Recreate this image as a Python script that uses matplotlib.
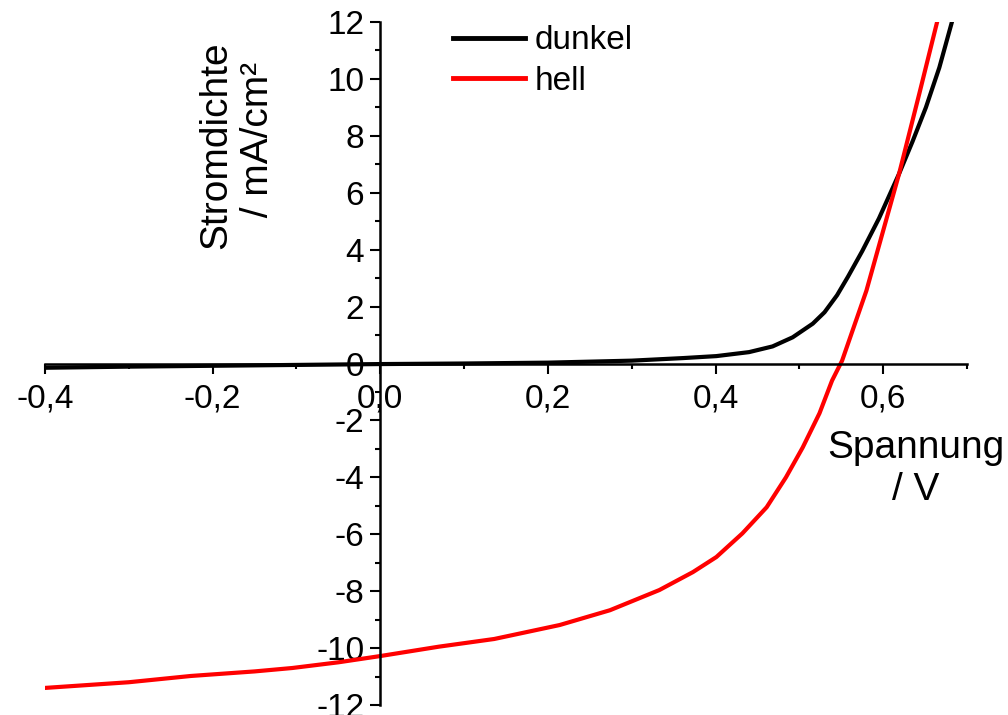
import matplotlib
matplotlib.use("Agg")
import matplotlib.pyplot as plt
from matplotlib.ticker import MultipleLocator, FuncFormatter

plt.rcParams['font.family'] = ['Liberation Sans', 'DejaVu Sans']

# dark curve (dunkel)
v_dunkel = [-0.4, -0.3, -0.2, -0.1, 0.0, 0.1, 0.2, 0.3, 0.361, 0.401, 0.44, 0.468, 0.492,
            0.516, 0.53, 0.545, 0.558, 0.575, 0.595, 0.619, 0.635, 0.651, 0.667, 0.682]
j_dunkel = [-0.15, -0.11, -0.08, -0.05, -0.02, 0.0, 0.03, 0.1, 0.19, 0.26, 0.4, 0.6, 0.92,
            1.4, 1.8, 2.4, 3.05, 3.95, 5.1, 6.67, 7.8, 9.0, 10.4, 12.0]

# illuminated curve (hell)
v_hell = [-0.4, -0.3, -0.226, -0.15, -0.105, -0.05, 0.0, 0.07, 0.136, 0.214, 0.274, 0.333,
          0.373, 0.401, 0.432, 0.461, 0.484, 0.504, 0.524, 0.539, 0.551, 0.58, 0.619, 0.643, 0.664]
j_hell = [-11.4, -11.2, -10.98, -10.82, -10.7, -10.5, -10.28, -9.95, -9.68, -9.19, -8.67, -7.96,
          -7.33, -6.8, -5.97, -5.05, -4.0, -2.95, -1.75, -0.6, 0.1, 2.56, 6.67, 9.47, 11.96]

labels = ["dunkel", "hell"]
xlabel = "Spannung\n/ V"
ylabel = "Stromdichte\n / mA/cm²"

W, H = 1008, 715
fig = plt.figure(figsize=(W / 100, H / 100), dpi=100)
ax = fig.add_axes([45 / W, 1 - 705 / H, (967 - 45) / W, (705 - 22) / H])

ax.plot(v_dunkel, j_dunkel, color='black', lw=3, label=labels[0], solid_joinstyle='round')
ax.plot(v_hell, j_hell, color='#ff0000', lw=3, label=labels[1], solid_joinstyle='round')

ax.set_xlim(-0.4, 0.7)
ax.set_ylim(-12, 12)

for s in ['top', 'right']:
    ax.spines[s].set_visible(False)
ax.spines['left'].set_position(('data', 0))
ax.spines['bottom'].set_position(('data', 0))
for s in ['left', 'bottom']:
    ax.spines[s].set_linewidth(1.8)

ax.xaxis.set_major_locator(MultipleLocator(0.2))
ax.xaxis.set_minor_locator(MultipleLocator(0.1))
ax.yaxis.set_major_locator(MultipleLocator(2))
ax.yaxis.set_minor_locator(MultipleLocator(1))

ax.xaxis.set_major_formatter(FuncFormatter(lambda v, p: f"{v:.1f}".replace('.', ',').replace('-0,0', '0,0')))
ax.yaxis.set_major_formatter(FuncFormatter(lambda v, p: f"{int(round(v))}"))

ax.tick_params(which='major', direction='out', length=7.5, width=1.5, labelsize=24, pad=4)
ax.tick_params(which='minor', direction='out', length=3.8, width=1.5)
ax.tick_params(axis='x', pad=7)

leg = ax.legend(loc='upper left', bbox_to_anchor=(440 / W, 1 - 12 / H), bbox_transform=fig.transFigure,
                frameon=False, fontsize=24, handlelength=2.15, handletextpad=0.3, labelspacing=0.28,
                borderaxespad=0)
for line in leg.get_lines():
    line.set_linewidth(3.5)

fig.text(237 / W, 1 - 145 / H, ylabel, rotation=90, ha='center', va='center', fontsize=28,
         multialignment='center', linespacing=1.2)
fig.text(916 / W, 1 - 469 / H, xlabel, ha='center', va='center', fontsize=28,
         multialignment='center', linespacing=1.2)

fig.savefig('out.png', dpi=100)
